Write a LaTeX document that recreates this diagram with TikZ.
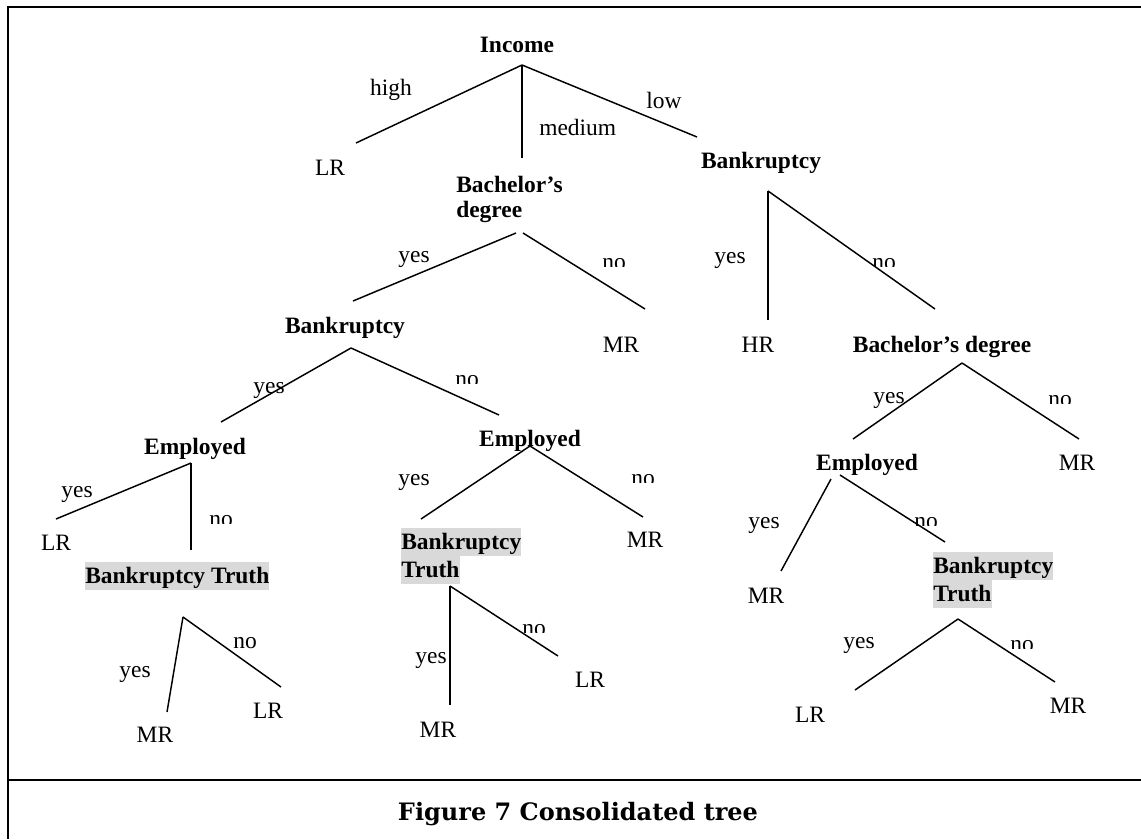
\documentclass[tikz,border=0pt]{standalone}
\usepackage{fontspec}
\usepackage{graphicx}
\setmainfont{Liberation Serif}
\newfontfamily\capfont{DejaVu Serif}
\definecolor{hlgray}{HTML}{D9D9D9}
\setlength{\fboxsep}{0pt}
% grey highlighted line of text, one text line high
\newcommand\hlbox[1]{\colorbox{hlgray}{\rule[-5.25pt]{0pt}{21pt}#1}}
% a "no" label whose lower part is cut off by its text frame
\newcommand\cutno[4]{%
  \begin{scope}
    \clip (#2-20,#3-25) rectangle (#2+20,#4);
    \node[lbl] (#1) at (#2,#3) {no};
  \end{scope}}

\tikzset{
  frame/.style={line width=1.5pt},
  edge/.style={line width=1.1pt},
  lbl/.style={inner sep=0pt, anchor=base, font=\fontsize{17.6}{21}\selectfont},
  title/.style={lbl, font=\fontsize{17.6}{21}\selectfont\bfseries},
  hltitle/.style={inner sep=0pt, anchor=north west, align=left,
                  font=\fontsize{17.6}{21}\selectfont\bfseries},
}

\begin{document}
\begin{tikzpicture}[x=0.75pt,y=-0.75pt]
\useasboundingbox (0,0) rectangle (1141,839);

% outer frame and caption separator
\draw[frame] (1141,6.5) -- (7.5,6.5) -- (7.5,839);
\draw[frame] (7.5,780) -- (1141,780);

% ---------- node labels ----------
\node[title] (income) at (517,52) {Income};
\node[lbl] (lr1) at (330,175) {LR};
\node[title, anchor=north west, align=left, font=\fontsize{17.6}{18.75}\selectfont\bfseries]
  (bach1) at (456,176) {Bachelor’s\\degree};
\node[title] (bank1) at (761,168) {Bankruptcy};

\node[title] (bank2) at (345,333) {Bankruptcy};
\node[lbl] (mr1) at (621,352) {MR};
\node[lbl] (hr1) at (758,352) {HR};
\node[title] (bach2) at (942,352) {Bachelor’s degree};

\node[title] (emp1) at (195,454) {Employed};
\node[title] (emp2) at (530,446) {Employed};
\node[title] (emp3) at (867,470) {Employed};
\node[lbl] (mr2) at (1077,470) {MR};

\node[lbl] (lr2) at (56,550) {LR};
\node[lbl] (mr3) at (645,547) {MR};
\node[lbl] (mr4) at (766,603) {MR};

\node[hltitle] (truth1) at (85,562) {\hlbox{Bankruptcy Truth}};
\node[hltitle] (truth2) at (401,528) {\hlbox{Bankruptcy}\\\hlbox{Truth}};
\node[hltitle] (truth3) at (933,552) {\hlbox{Bankruptcy}\\\hlbox{Truth}};

\node[lbl] (mr5) at (155,742) {MR};
\node[lbl] (lr3) at (268,718) {LR};
\node[lbl] (mr6) at (438,737) {MR};
\node[lbl] (lr4) at (590,687) {LR};
\node[lbl] (lr5) at (810,722) {LR};
\node[lbl] (mr7) at (1068,713) {MR};

% ---------- branch end points ----------
\coordinate (a-inc) at (522,65);
\coordinate (e-high) at (356,143);
\coordinate (e-med) at (522,158);
\coordinate (e-low) at (697,137);

\coordinate (a-bd1l) at (516,233);
\coordinate (a-bd1r) at (523,233);
\coordinate (e-bd1y) at (353,301);
\coordinate (e-bd1n) at (645,309);

\coordinate (a-bk1) at (768,191);
\coordinate (e-bk1y) at (768,320);
\coordinate (e-bk1n) at (935,309);

\coordinate (a-bk2) at (351,348);
\coordinate (e-bk2y) at (221,422);
\coordinate (e-bk2n) at (499,415);

\coordinate (a-bd2) at (962,363);
\coordinate (e-bd2y) at (853,439);
\coordinate (e-bd2n) at (1079,439);

\coordinate (a-em1) at (191,463);
\coordinate (e-em1y) at (56,519);
\coordinate (e-em1n) at (191,550);

\coordinate (a-em2) at (530,446);
\coordinate (e-em2y) at (421,519);
\coordinate (e-em2n) at (643,517);

\coordinate (a-em3y) at (831,479);
\coordinate (e-em3y) at (781,571);
\coordinate (a-em3n) at (840,475);
\coordinate (e-em3n) at (945,542);

\coordinate (a-bt1) at (183,617);
\coordinate (e-bt1y) at (167,712);
\coordinate (e-bt1n) at (281,687);

\coordinate (a-bt2) at (450,586);
\coordinate (e-bt2y) at (450,705);
\coordinate (e-bt2n) at (558,656);

\coordinate (a-bt3) at (958,619);
\coordinate (e-bt3y) at (855,690);
\coordinate (e-bt3n) at (1055,682);

% ---------- branches ----------
\draw[edge] (a-inc) -- (e-high);
\draw[edge] (a-inc) -- (e-med);
\draw[edge] (a-inc) -- (e-low);
\draw[edge] (a-bd1l) -- (e-bd1y);
\draw[edge] (a-bd1r) -- (e-bd1n);
\draw[edge] (a-bk1) -- (e-bk1y);
\draw[edge] (a-bk1) -- (e-bk1n);
\draw[edge] (a-bk2) -- (e-bk2y);
\draw[edge] (a-bk2) -- (e-bk2n);
\draw[edge] (a-bd2) -- (e-bd2y);
\draw[edge] (a-bd2) -- (e-bd2n);
\draw[edge] (a-em1) -- (e-em1y);
\draw[edge] (a-em1) -- (e-em1n);
\draw[edge] (a-em2) -- (e-em2y);
\draw[edge] (a-em2) -- (e-em2n);
\draw[edge] (a-em3y) -- (e-em3y);
\draw[edge] (a-em3n) -- (e-em3n);
\draw[edge] (a-bt1) -- (e-bt1y);
\draw[edge] (a-bt1) -- (e-bt1n);
\draw[edge] (a-bt2) -- (e-bt2y);
\draw[edge] (a-bt2) -- (e-bt2n);
\draw[edge] (a-bt3) -- (e-bt3y);
\draw[edge] (a-bt3) -- (e-bt3n);

% ---------- branch labels ----------
\node[lbl] (l-high) at (391,95) {high};
\node[lbl, anchor=base west] (l-med) at (539,135) {medium};
\node[lbl] (l-low) at (664,108) {low};

\node[lbl] (y-bd1) at (414,262) {yes};
\cutno{n-bd1}{614}{269}{266}
\node[lbl] (y-bk1) at (730,263) {yes};
\cutno{n-bk1}{884}{269}{266}

\node[lbl] (y-bk2) at (269,393) {yes};
\cutno{n-bk2}{467}{386}{383}
\node[lbl] (y-bd2) at (889,403) {yes};
\cutno{n-bd2}{1060}{406}{403}

\node[lbl] (y-em1) at (77,497) {yes};
\cutno{n-em1}{221}{526}{523}
\node[lbl] (y-em2) at (414,485) {yes};
\cutno{n-em2}{643}{485}{482}
\node[lbl] (y-em3) at (764,528) {yes};
\cutno{n-em3}{926}{528}{525}

\node[lbl] (y-bt1) at (135,677) {yes};
\node[lbl] (n-bt1) at (245,648) {no};
\node[lbl] (y-bt2) at (431,663) {yes};
\cutno{n-bt2}{534}{635}{632}
\node[lbl] (y-bt3) at (859,648) {yes};
\cutno{n-bt3}{1022}{651}{648}

% ---------- caption ----------
\node[inner sep=0pt, anchor=base] (caption) at (578,820)
  {\resizebox{270pt}{!}{\capfont\bfseries\fontsize{17.6}{21}\selectfont Figure 7 Consolidated tree}};
\end{tikzpicture}
\end{document}
